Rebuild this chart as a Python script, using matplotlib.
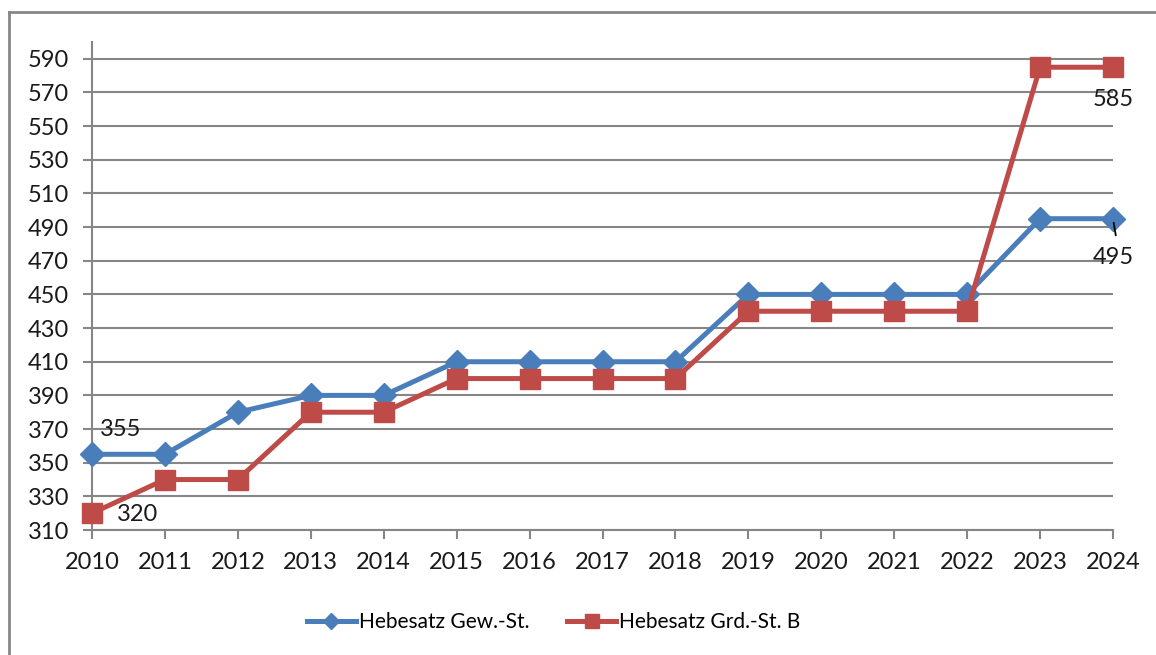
import matplotlib
matplotlib.use('Agg')
import matplotlib.pyplot as plt
from matplotlib.lines import Line2D

# data
years = list(range(2010, 2025))
gew = [355, 355, 380, 390, 390, 410, 410, 410, 410, 450, 450, 450, 450, 495, 495]
grd = [320, 340, 340, 380, 380, 400, 400, 400, 400, 440, 440, 440, 440, 585, 585]
yticks = list(range(310, 591, 20))
names = ['Hebesatz Gew.-St.', 'Hebesatz Grd.-St. B']

blue = '#4a7ebb'
red = '#be4b48'
grey = '#868686'

plt.rcParams['font.family'] = ['Lato', 'DejaVu Sans']

fig = plt.figure(figsize=(11.56, 6.55), dpi=100)
ax = fig.add_axes([0.0796, 0.1908, 0.9628 - 0.0796, 0.9359 - 0.1908])

# outer frame (only top and left visible in the reference)
fig.add_artist(Line2D([9/1156, 9/1156], [0, 1 - 12/655], color=grey, lw=2, transform=fig.transFigure))
fig.add_artist(Line2D([9/1156, 1], [1 - 12/655, 1 - 12/655], color=grey, lw=2, transform=fig.transFigure))

for t in yticks:
  ax.axhline(t, color=grey, lw=1.5, zorder=1)

ax.plot(years, gew, color=blue, lw=3.6, marker='D', ms=12, mec=blue, mfc=blue, zorder=3, label=names[0], clip_on=False)
ax.plot(years, grd, color=red, lw=3.6, marker='s', ms=14.5, mec=red, mfc=red, zorder=4, label=names[1], clip_on=False)

ax.set_xlim(2010, 2024)
ax.set_ylim(310, 600)
ax.set_xticks(years)
ax.set_yticks(yticks)
for s in ['top', 'right']:
  ax.spines[s].set_visible(False)
for s in ['left', 'bottom']:
  ax.spines[s].set_color(grey)
  ax.spines[s].set_linewidth(1.5)
ax.tick_params(axis='both', colors=grey, labelcolor='#1a1a1a', labelsize=17, length=6.5, width=1.5)
ax.tick_params(axis='y', pad=10)
ax.tick_params(axis='x', pad=9)

# data labels
ax.annotate(str(gew[0]), (years[0], gew[0]), xytext=(6, 18), textcoords='offset points',
            ha='left', va='center', fontsize=17, color='#1a1a1a')
ax.annotate(str(grd[0]), (years[0], grd[0]), xytext=(18, -1), textcoords='offset points',
            ha='left', va='center', fontsize=17, color='#1a1a1a')
ax.annotate(str(grd[-1]), (years[-1], grd[-1]), xytext=(0, -23), textcoords='offset points',
            ha='center', va='center', fontsize=17, color='#1a1a1a')
ax.annotate(str(gew[-1]), (years[-1], gew[-1]), xytext=(0, -28), textcoords='offset points',
            ha='center', va='center', fontsize=17, color='#1a1a1a')
ax.annotate('', (years[-1], gew[-1]), xytext=(2, -12), textcoords='offset points',
            arrowprops=dict(arrowstyle='-', color='black', lw=1.3, shrinkA=0, shrinkB=3))

fig.legend(loc='center', bbox_to_anchor=(0.479, 1 - 622/655), ncol=2, frameon=False,
           fontsize=15, handlelength=2.35, handletextpad=0.15, columnspacing=1.8, markerscale=0.7)

fig.savefig('out.png', dpi=100)
